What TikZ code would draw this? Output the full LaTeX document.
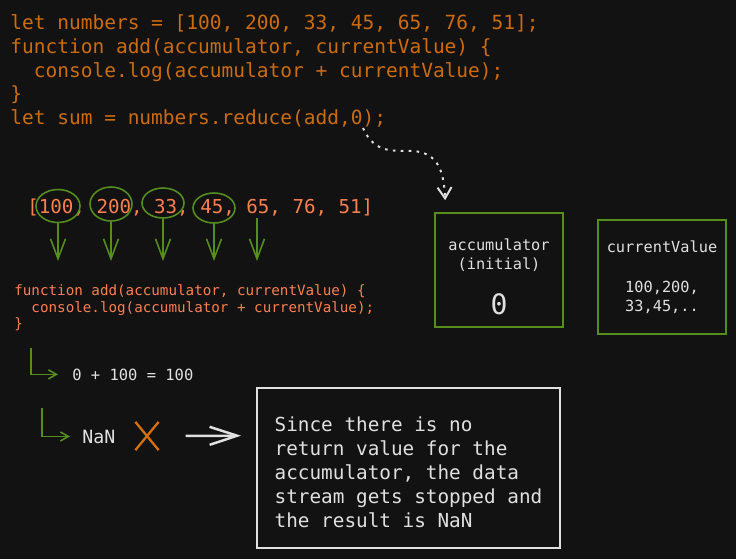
\documentclass[tikz,border=0pt]{standalone}
\usepackage{fontspec}
\setmonofont{DejaVu Sans Mono}
\usepackage{tikz}
\usetikzlibrary{arrows.meta, positioning, calc, shapes.geometric, shapes.misc}
\definecolor{mybg}{RGB}{18,18,18}
\definecolor{mycode}{RGB}{204,108,16}
\definecolor{mycoral}{RGB}{250,128,80}
\definecolor{mygreen}{RGB}{86,142,30}
\definecolor{mylight}{RGB}{224,224,224}
\definecolor{mycross}{RGB}{214,112,14}
\tikzset{
  codeline/.style={anchor=north west, inner sep=0pt, align=left, text=mycode,
    font=\ttfamily\fontsize{11.1pt}{13.6pt}\selectfont},
  arraytext/.style={anchor=base west, inner sep=0pt, text=mycoral,
    font=\ttfamily\fontsize{10.9pt}{13pt}\selectfont},
  smallcode/.style={anchor=north west, inner sep=0pt, align=left, text=mycoral,
    font=\ttfamily\fontsize{8.1pt}{9.6pt}\selectfont},
  ring/.style={ellipse, draw=mygreen, line width=0.9pt, inner sep=0pt},
  valbox/.style={rectangle, draw=mygreen, line width=1pt, align=center,
    minimum width=2.56cm, minimum height=2.28cm, text=mylight,
    font=\ttfamily\fontsize{8.7pt}{10.8pt}\selectfont},
  noteblock/.style={rectangle, draw=mylight, line width=1.1pt, align=left,
    minimum width=6.06cm, minimum height=3.2cm, text=mylight,
    font=\ttfamily\fontsize{11pt}{13.6pt}\selectfont},
  resulttext/.style={anchor=base west, inner sep=0pt, text=mylight,
    font=\ttfamily\fontsize{8.8pt}{10.5pt}\selectfont},
  crossmark/.style={cross out, draw=mycross, line width=1.3pt, inner sep=0pt,
    minimum width=0.42cm, minimum height=0.52cm},
  grarrow/.style={-{Straight Barb[length=4mm,width=3mm]}, draw=mygreen,
    line width=0.9pt, shorten >=0.46cm},
  lgarrow/.style={-{Straight Barb[length=1.6mm,width=1.8mm]}, draw=mygreen,
    line width=0.9pt},
  whitearrow/.style={-{Straight Barb[length=5.5mm,width=3.6mm]}, draw=mylight,
    line width=1.4pt},
  dotarrow/.style={-{Straight Barb[length=2.2mm,width=2.8mm]}, draw=mylight,
    line width=1.1pt, dash pattern=on 1.5pt off 3pt}
}
\begin{document}
\begin{tikzpicture}[x=0.02cm, y=-0.02cm]
  % background and page size
  \fill[mybg] (0,0) rectangle (736,559);
  \useasboundingbox (0,0) rectangle (736,559);

  % source code at the top
  \node[codeline] (code) at (10,14) {let numbers = [100, 200, 33, 45, 65, 76, 51];\\function add(accumulator, currentValue) \{\\\ \ console.log(accumulator + currentValue);\\\}\\let sum = numbers.reduce(add,0);};
  \coordinate (redarg) at (363,128);

  % array, first values circled
  \node[arraytext] (arr) at (27,213) {[100, 200, 33, 45, 65, 76, 51]};
  \node[ring, minimum width=0.88cm, minimum height=0.66cm] (r100) at (58,206) {};
  \node[ring, minimum width=0.84cm, minimum height=0.68cm] (r200) at (111,204) {};
  \node[ring, minimum width=0.84cm, minimum height=0.60cm] (r33) at (163,203) {};
  \node[ring, minimum width=0.84cm, minimum height=0.60cm] (r45) at (214,208) {};
  \coordinate (r65) at (257,218);

  % callback
  \node[smallcode] (fncode) at (14,284) {function add(accumulator, currentValue) \{\\\ \ console.log(accumulator + currentValue);\\\}};

  \foreach \n in {r100, r200, r33, r45}
    \draw[grarrow] (\n.south) -- (\n.south |- fncode.north);
  \draw[grarrow] (r65) -- (r65 |- fncode.north);

  % value boxes
  \node[valbox] (acc) at (499,270) {\rule{0pt}{14.6pt}accumulator\\(initial)\\[12pt]{\fontsize{16pt}{16pt}\selectfont 0}};
  \node[valbox] (cur) at (662,277) {currentValue\\[12pt]100,200,\\33,45,..};

  \draw[dotarrow] (redarg) .. controls (375,155) and (395,150) .. (412,151)
    .. controls (440,152) and (444,175) .. ($(acc.north west)+(11,-12)$);

  % results
  \coordinate (l1) at (31,348);
  \node[resulttext] (sum1) at (72,380) {0 + 100 = 100};
  \draw[lgarrow, shorten >=0.28cm] (l1) |- (sum1.west);

  \coordinate (l2) at (42,408);
  \node[resulttext, font=\ttfamily\fontsize{10.4pt}{12pt}\selectfont] (nan) at (82,443) {NaN};
  \draw[lgarrow, shorten >=0.24cm] (l2) |- (nan.west);

  \node[crossmark] (nanx) at (147,436) {};

  \node[noteblock] (note) at (408.5,468) {\rule{0pt}{13.5pt}Since there is no\\return value for the\\accumulator, the data\\stream gets stopped and\\the result is NaN};

  \draw[whitearrow, shorten <=0.54cm, shorten >=0.3cm] (nanx.east) -- ($(note.north west)!0.3!(note.south west)$);
\end{tikzpicture}
\end{document}
